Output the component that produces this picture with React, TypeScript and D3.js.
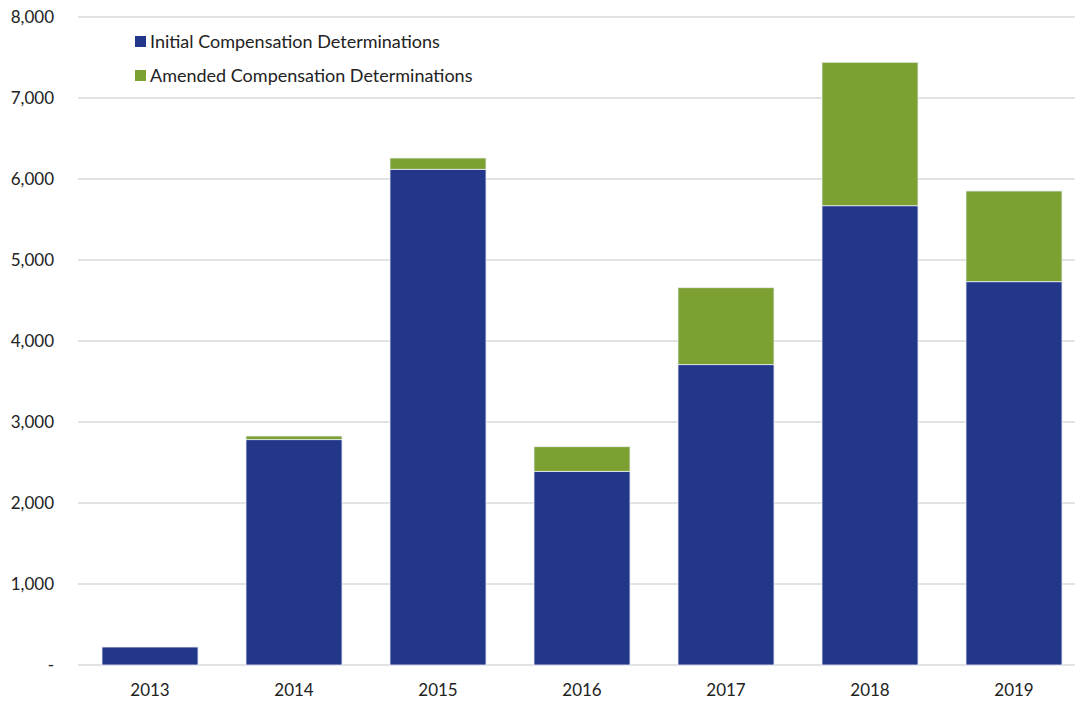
import React from "react";
import * as d3 from "d3";

const years = ["2013", "2014", "2015", "2016", "2017", "2018", "2019"];
const initial = [222, 2782, 6120, 2391, 3708, 5670, 4732];
const amended = [0, 45, 139, 304, 950, 1771, 1120];
const yTicks = [0, 1000, 2000, 3000, 4000, 5000, 6000, 7000, 8000];
const seriesNames = ["Initial Compensation Determinations", "Amended Compensation Determinations"];
const colors = ["#22368A", "#7CA031"];

const W = 1075;
const H = 702;
const FONT = "Lato, 'Open Sans', sans-serif";

export default function App() {
  const x = d3.scaleBand<string>().domain(years).range([78, 1086]).paddingInner(1 / 3).paddingOuter(1 / 6);
  const y = d3.scaleLinear().domain([0, 8000]).range([665, 17]);
  const rows = years.map((yr, i) => ({ year: yr, initial: initial[i], amended: amended[i] }));
  const stacked = d3.stack<any>().keys(["initial", "amended"])(rows);
  const fmt = (v: number) => (v === 0 ? "-" : d3.format(",")(v));

  return (
    <svg width={W} height={H} style={{ position: "absolute", left: 0, top: 0, display: "block", background: "#fff" }} fontFamily={FONT}>
      {yTicks.map((t) => (
        <g key={t}>
          <line x1={78} x2={W} y1={y(t)} y2={y(t)} stroke="#D9D9D9" strokeWidth={1.3} />
          <text x={54} y={y(t)} dy="0.35em" textAnchor="end" fontSize={17} fill="#222">
            {fmt(t)}
          </text>
        </g>
      ))}
      {stacked.map((s, si) => (
        <g key={si}>
          {s.map((d, i) =>
            d[1] - d[0] > 0 ? (
              <rect
                key={i}
                x={x(years[i])!}
                width={x.bandwidth()}
                y={y(d[1])}
                height={y(d[0]) - y(d[1])}
                fill={colors[si]}
                stroke="#E8EEF4"
                strokeWidth={0.8}
              />
            ) : null
          )}
        </g>
      ))}
      {years.map((yr) => (
        <text key={yr} x={x(yr)! + x.bandwidth() / 2} y={690} dy="0.35em" textAnchor="middle" fontSize={17} fill="#222">
          {yr}
        </text>
      ))}
      {seriesNames.map((n, i) => (
        <g key={n} transform={`translate(135, ${42 + i * 34})`}>
          <rect x={0} y={-6} width={11} height={11} fill={colors[i]} />
          <text x={15} y={0} dy="0.35em" fontSize={18} fill="#222">
            {n}
          </text>
        </g>
      ))}
    </svg>
  );
}
